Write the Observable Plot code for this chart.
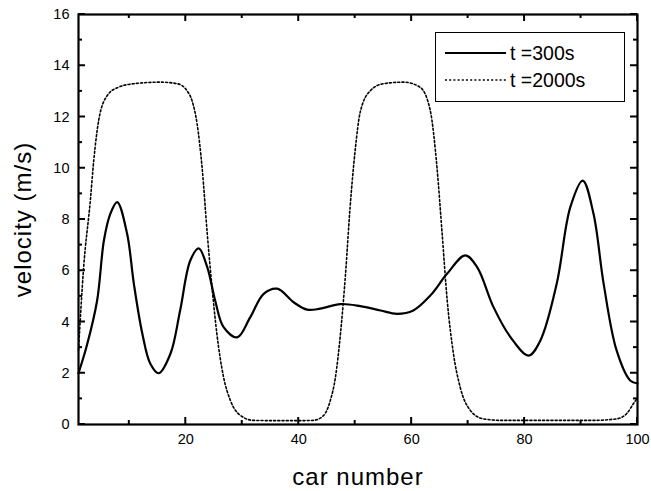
<!DOCTYPE html>
<html>
<head>
<meta charset="utf-8">
<script src="https://cdn.jsdelivr.net/npm/d3@7"></script>
<script src="https://cdn.jsdelivr.net/npm/@observablehq/plot@0.6"></script>
<style>
  html, body { margin: 0; padding: 0; background: #fff; }
  #chart { position: relative; width: 651px; height: 491px; font-family: "Liberation Sans", Arial, Helvetica, sans-serif; }
  #chart svg { overflow: visible; }
  #legend { position: absolute; left: 435px; top: 32px; width: 190px; height: 70px; border: 1.5px solid #000; background: #fff; box-sizing: border-box; }
  .row { position: absolute; left: 9px; height: 24px; display: flex; align-items: center; font-size: 19.5px; color: #000; }
  .row svg { margin-right: 4px; }
  .title { letter-spacing: 1px; }
</style>
</head>
<body>
<div id="chart"></div>
<script>
// t = 300 s (solid)
const carA = [1, 2.5, 4.3, 5.5, 6.6, 7.85, 9.6, 10.8, 12.3, 13.7, 15.2, 17.3, 19, 20.8, 22.3, 23.8, 25.2, 26.7, 29.1, 31.4, 33.8, 36.2, 39.1, 41.5, 43.8, 47.4, 50.9, 54.5, 57.4, 60.3, 63.3, 66.3, 69.5, 71.6, 74.5, 77.5, 80.7, 82.8, 85.7, 88.1, 90.3, 92.2, 94, 96.3, 98.7, 100];
const velA = [2.0, 3.1, 4.84, 7.18, 8.2, 8.68, 7.45, 5.5, 3.55, 2.38, 2.0, 2.77, 4.45, 6.4, 6.87, 6.14, 4.84, 3.8, 3.4, 4.18, 5.1, 5.3, 4.77, 4.48, 4.52, 4.7, 4.62, 4.45, 4.32, 4.45, 5.03, 5.89, 6.6, 6.14, 4.58, 3.41, 2.69, 3.28, 5.5, 8.48, 9.52, 8.23, 5.5, 2.89, 1.72, 1.6];
// t = 2000 s (dotted)
const carB = [1, 1.9, 3.1, 3.7, 4.6, 6.1, 7.85, 10.8, 15.5, 18.5, 20.2, 21.1, 22, 22.9, 23.8, 24.7, 25.5, 26.7, 27.9, 29.7, 32, 36, 40, 42.6, 44.4, 45.6, 46.5, 47.4, 48.3, 49.1, 50, 50.9, 52.7, 55, 58.6, 61.5, 63.3, 64.5, 65.4, 66.3, 67.4, 68.6, 70.4, 72.7, 76, 85, 92, 96.3, 98.1, 99.3, 100];
const velB = [2.9, 6.1, 8.75, 10.3, 11.9, 12.84, 13.14, 13.3, 13.36, 13.3, 13.03, 12.64, 11.74, 10.0, 7.45, 5.23, 3.55, 1.84, 0.94, 0.35, 0.16, 0.15, 0.15, 0.16, 0.35, 0.94, 1.84, 3.55, 5.9, 8.48, 10.7, 12.2, 13.03, 13.3, 13.36, 13.16, 12.25, 10.0, 7.45, 4.84, 2.77, 1.45, 0.55, 0.22, 0.16, 0.16, 0.16, 0.22, 0.43, 0.82, 1.05];

const seriesLabels = ["t =300s", "t =2000s"];
const xDomain = [1, 100];
const yDomain = [0, 16];
const xMajor = [20, 40, 60, 80, 100];
const xMinor = [10, 30, 50, 70, 90];
const yMajor = [0, 2, 4, 6, 8, 10, 12, 14, 16];
const yMinor = [1, 3, 5, 7, 9, 11, 13, 15];
const xTitle = "car number";
const yTitle = "velocity (m/s)";

const dataA = carA.map((c, i) => ({car: c, v: velA[i]}));
const dataB = carB.map((c, i) => ({car: c, v: velB[i]}));

const W = 651, H = 491, ML = 78, MR = 14, MT = 14, MB = 67;
const MAJ = 7, MIN = 4;

const plot = Plot.plot({
  width: W,
  height: H,
  marginLeft: ML,
  marginRight: MR,
  marginTop: MT,
  marginBottom: MB,
  style: {fontFamily: '"Liberation Sans", Arial, Helvetica, sans-serif', background: "#fff", overflow: "visible"},
  x: {domain: xDomain},
  y: {domain: yDomain},
  marks: [
    Plot.axisX({anchor: "bottom", ticks: xMajor, tickSize: 0, tickPadding: 9, fontSize: 14.5, label: null, color: "#000"}),
    Plot.axisY({anchor: "left", ticks: yMajor, tickSize: 0, tickPadding: 9, fontSize: 14.5, label: null, color: "#000"}),
    Plot.line(dataB, {x: "car", y: "v", curve: "monotone-x", stroke: "#000", strokeWidth: 1.6, strokeDasharray: "2,2.2"}),
    Plot.line(dataA, {x: "car", y: "v", curve: "catmull-rom", stroke: "#000", strokeWidth: 2.2}),
    Plot.frame({stroke: "#000", strokeWidth: 2.2}),
    Plot.text([xTitle], {text: d => d, frameAnchor: "bottom", dy: 53, lineAnchor: "middle", textAnchor: "middle", fontSize: 24, fill: "#000", className: "title"}),
    Plot.text([yTitle], {text: d => d, frameAnchor: "left", dx: -55, rotate: -90, lineAnchor: "middle", textAnchor: "middle", fontSize: 24, fill: "#000", className: "title"})
  ]
});
const chart = document.getElementById("chart");
chart.appendChild(plot);

// inward ticks on all four sides, positioned with the plot's own x and y scales
const sx = plot.scale("x"), sy = plot.scale("y");
const x0 = sx.apply(xDomain[0]), x1 = sx.apply(xDomain[1]);
const y0 = sy.apply(yDomain[0]), y1 = sy.apply(yDomain[1]);
const NS = "http://www.w3.org/2000/svg";
const g = document.createElementNS(NS, "g");
g.setAttribute("stroke", "#000");
g.setAttribute("stroke-width", "2");
const seg = (ax, ay, bx, by) => {
  const l = document.createElementNS(NS, "line");
  l.setAttribute("x1", ax); l.setAttribute("y1", ay);
  l.setAttribute("x2", bx); l.setAttribute("y2", by);
  g.appendChild(l);
};
[[xMajor, MAJ], [xMinor, MIN]].forEach(([vals, len]) => vals.forEach(v => {
  const px = sx.apply(v);
  seg(px, y0, px, y0 - len);
  seg(px, y1, px, y1 + len);
}));
[[yMajor, MAJ], [yMinor, MIN]].forEach(([vals, len]) => vals.forEach(v => {
  const py = sy.apply(v);
  seg(x0, py, x0 + len, py);
  seg(x1, py, x1 - len, py);
}));
plot.appendChild(g);

// legend (HTML overlay inside the plot area)
const legend = document.createElement("div");
legend.id = "legend";
const dashes = [null, "2,2.2"];
seriesLabels.forEach((lab, i) => {
  const row = document.createElement("div");
  row.className = "row";
  row.style.top = (8 + i * 27) + "px";
  row.innerHTML = `<svg width="61" height="6"><line x1="0" x2="61" y1="3" y2="3" stroke="#000" stroke-width="${i === 0 ? 2.2 : 1.6}" ${dashes[i] ? `stroke-dasharray="${dashes[i]}"` : ""}/></svg><span>${lab}</span>`;
  legend.appendChild(row);
});
chart.appendChild(legend);
</script>
</body>
</html>
